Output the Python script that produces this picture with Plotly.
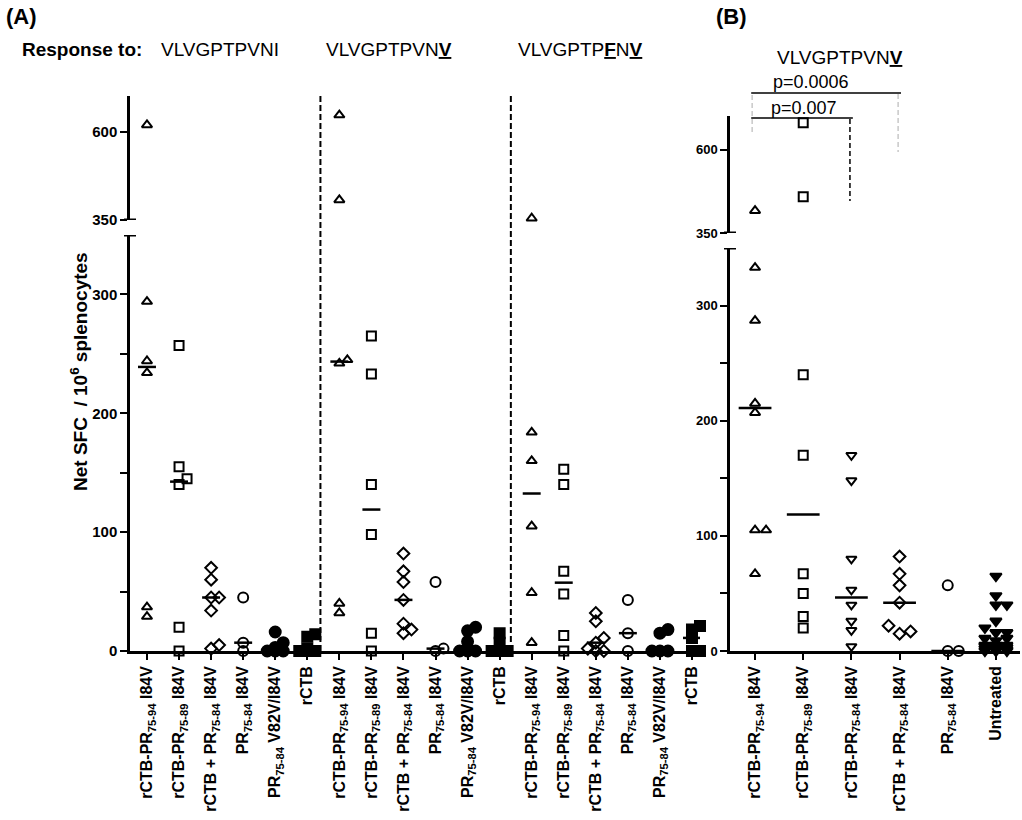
import numpy as np
import plotly.graph_objects as go

# ---------------- data ----------------
GROUPS_A = ["rCTB-PR<sub>75-94</sub> I84V", "rCTB-PR<sub>75-89</sub> I84V",
            "rCTB + PR<sub>75-84</sub> I84V", "PR<sub>75-84</sub> I84V",
            "PR<sub>75-84</sub> V82V/I84V", "rCTB"]
GROUPS_B = ["rCTB-PR<sub>75-94</sub> I84V", "rCTB-PR<sub>75-89</sub> I84V",
            "rCTB-PR<sub>75-84</sub> I84V", "rCTB + PR<sub>75-84</sub> I84V",
            "PR<sub>75-84</sub> I84V", "Untreated"]
PEPTIDES_A = ["VLVGPTPVNI", "VLVGPTPVN<b><u>V</u></b>",
              "VLVGPTP<b><u>F</u></b>N<b><u>V</u></b>"]
PEPTIDE_B = "VLVGPTPVN<b><u>V</u></b>"

# Panel A - response to VLVGPTPVNI
ni_ctb_pr94 = [620, 294, 244, 234, 37, 29]
ni_ctb_pr89 = [257, 155, 145, 140, 20, 0]
ni_ctb_plus_pr84 = [70, 60, 45, 45, 34, 5, 2]
ni_pr84 = [45, 7, 0]
ni_pr84_v82 = [16, 7, 3, 0, 0, 0]
ni_ctb = [14, 12, 2, 0, 0, 0]
# Panel A - response to VLVGPTPVNV
nv_ctb_pr94 = [648, 407, 245, 242, 40, 32]
nv_ctb_pr89 = [265, 233, 140, 98, 15, 0]
nv_ctb_plus_pr84 = [82, 67, 58, 43, 23, 18, 15]
nv_pr84 = [58, 2, 0]
nv_pr84_v82 = [20, 17, 8, 0, 0, 0]
nv_ctb = [15, 7, 0, 0, 0]
# Panel A - response to VLVGPTPFNV
fnv_ctb_pr94 = [355, 184, 160, 105, 49, 7]
fnv_ctb_pr89 = [153, 140, 67, 48, 13, 0]
fnv_ctb_plus_pr84 = [32, 25, 11, 7, 2, 0, 0]
fnv_pr84 = [43, 15, 0]
fnv_pr84_v82 = [18, 15, 0, 0, 0]
fnv_ctb = [21, 18, 11, 0, 0]
# Panel B - response to VLVGPTPVNV
b_ctb_pr94 = [417, 333, 287, 215, 207, 105, 105, 67]
b_ctb_pr89 = [681, 459, 240, 170, 67, 50, 30, 20]
b_ctb_pr84 = [170, 148, 80, 53, 40, 26, 18, 4]
b_ctb_plus_pr84 = [82, 67, 57, 42, 22, 17, 15]
b_pr84 = [57, 0, 0]
b_untreated = [65, 48, 40, 40, 26, 20, 16, 16, 11, 11, 9, 5, 5, 5, 4, 3, 3, 2, 2, 1, 1, 0, 0, 0]

Y_MAJOR_TICKS = [0, 100, 200, 300]
Y_MINOR_TICKS = [50, 150, 250]
Y_UPPER_TICKS = [350, 600]
BREAK = 350
P_TEXT = ["p=0.0006", "p=0.007"]
P_PAIRS = [(0, 3), (0, 2)]

panel_a_values = [ni_ctb_pr94, ni_ctb_pr89, ni_ctb_plus_pr84, ni_pr84, ni_pr84_v82, ni_ctb,
                  nv_ctb_pr94, nv_ctb_pr89, nv_ctb_plus_pr84, nv_pr84, nv_pr84_v82, nv_ctb,
                  fnv_ctb_pr94, fnv_ctb_pr89, fnv_ctb_plus_pr84, fnv_pr84, fnv_pr84_v82, fnv_ctb]
panel_b_values = [b_ctb_pr94, b_ctb_pr89, b_ctb_pr84, b_ctb_plus_pr84, b_pr84, b_untreated]

# ---------------- layout geometry (pixels) ----------------
W, H = 1022, 820
FONT = "Liberation Sans, Arial, Helvetica, sans-serif"


def fx(px):
    return px / W


def fy(py):
    return 1 - py / H


PA = dict(x0=130, x1=700, lo=(235, 651), up=(96, 220), xr=(-0.53, 17.25), up_max=702,
          sep=[5.41, 11.35], med_half=0.28, tick_font=15, step=8, diam=8)
PB = dict(x0=730, x1=1020, lo=(248, 651), up=(116, 233), xr=(-0.52, 5.5), up_max=701,
          med_half=0.34, tick_font=13, step=11, diam=9)

STYLE_A = [("triangle-up-open", 9), ("square-open", 9), ("diamond-open", 9),
           ("circle-open", 10), ("circle", 11), ("square", 10)]
STYLE_B = [("triangle-up-open", 9), ("square-open", 9), ("triangle-down-open", 9),
           ("diamond-open", 9), ("circle-open", 10), ("triangle-down", 10)]


def swarm(vals, ypx, diam, step):
    """Simple scatter-dot spreading: 0, +step, -step; fall back to least overlap."""
    order = np.argsort(vals, kind="stable")
    placed = []
    offs = np.zeros(len(vals))
    cands = [0.0, step, -step]
    for idx in order:
        y = ypx(vals[idx])
        best, best_d = 0.0, -1.0
        for c in cands:
            d = min([np.hypot(c - px, y - py) for px, py in placed] + [1e9])
            if d >= diam:
                best = c
                break
            if d > best_d + 0.5:
                best, best_d = c, d
        placed.append((best, y))
        offs[idx] = best
    return offs


fig = go.Figure()


def add_panel(values, styles, P, xa, ya, xa_up, ya_up):
    cat_px = (P["x1"] - P["x0"]) / (P["xr"][1] - P["xr"][0])
    lo_scale = (P["lo"][1] - P["lo"][0]) / BREAK
    up_scale = (P["up"][1] - P["up"][0]) / (P["up_max"] - BREAK)

    def ypx(v):
        if v <= BREAK:
            return P["lo"][1] - v * lo_scale
        return P["up"][1] - (v - BREAK) * up_scale

    mx, my = [], []
    for i, vals in enumerate(values):
        sym, size = styles[i % len(styles)]
        offs = swarm(vals, ypx, P["diam"], P["step"]) / cat_px
        xs = np.array([i] * len(vals), dtype=float) + offs
        v = np.array(vals, dtype=float)
        for mask, xax, yax in ((v <= BREAK, xa, ya), (v > BREAK, xa_up, ya_up)):
            if mask.any():
                fig.add_trace(go.Scatter(
                    x=xs[mask], y=v[mask], mode="markers", xaxis=xax, yaxis=yax,
                    cliponaxis=False, showlegend=False, hoverinfo="y",
                    marker=dict(symbol=sym, size=size, color="black",
                                line=dict(color="black", width=2))))
        m = float(np.median(vals))
        mx += [i - P["med_half"], i + P["med_half"], None]
        my += [m, m, None]
    fig.add_trace(go.Scatter(x=mx, y=my, mode="lines", xaxis=xa, yaxis=ya, cliponaxis=False,
                             showlegend=False, hoverinfo="skip",
                             line=dict(color="black", width=2.5)))


add_panel(panel_a_values, STYLE_A, PA, "x", "y", "x3", "y3")
add_panel(panel_b_values, STYLE_B, PB, "x2", "y2", "x4", "y4")

axis_common = dict(showline=True, linecolor="black", linewidth=2.5, ticks="outside",
                   tickcolor="black", tickwidth=2, showgrid=False, zeroline=False,
                   automargin=False, mirror=False)


def xaxis_cfg(P, labels):
    d = dict(axis_common)
    d.update(domain=[fx(P["x0"]), fx(P["x1"])], range=list(P["xr"]),
             tickmode="array", tickvals=list(range(len(labels))), ticktext=labels,
             tickangle=-90, ticklen=6, tickfont=dict(family=FONT, size=16, color="black",
                                                     weight="bold"))
    return d


def hidden_x(P, match, anchor):
    return dict(domain=[fx(P["x0"]), fx(P["x1"])], range=list(P["xr"]), matches=match,
                anchor=anchor, visible=False, showticklabels=False, showgrid=False,
                zeroline=False, showline=False, ticks="", automargin=False)


def yaxis_cfg(P, lower=True):
    d = dict(axis_common)
    if lower:
        d.update(domain=[fy(P["lo"][1]), fy(P["lo"][0])], range=[0, BREAK],
                 tickvals=Y_MAJOR_TICKS, ticktext=[str(t) for t in Y_MAJOR_TICKS],
                 minor=dict(tickmode="array", tickvals=Y_MINOR_TICKS, ticks="outside",
                            ticklen=7, tickwidth=2, tickcolor="black", showgrid=False))
    else:
        d.update(domain=[fy(P["up"][1]), fy(P["up"][0])], range=[BREAK, P["up_max"]],
                 tickvals=Y_UPPER_TICKS, ticktext=[str(t) for t in Y_UPPER_TICKS])
    d.update(tickmode="array", ticklen=7,
             tickfont=dict(family=FONT, size=P["tick_font"], color="black", weight="bold"))
    return d


labels_a = GROUPS_A * 3
fig.update_layout(
    width=W, height=H, template="none",
    margin=dict(l=0, r=0, t=0, b=0, pad=0),
    paper_bgcolor="white", plot_bgcolor="rgba(0,0,0,0)",
    showlegend=False,
    font=dict(family=FONT, color="black"),
    xaxis=dict(xaxis_cfg(PA, labels_a), anchor="y"),
    yaxis=dict(yaxis_cfg(PA, True), anchor="x"),
    xaxis3=hidden_x(PA, "x", "y3"),
    yaxis3=dict(yaxis_cfg(PA, False), anchor="x3"),
    xaxis2=dict(xaxis_cfg(PB, GROUPS_B), anchor="y2"),
    yaxis2=dict(yaxis_cfg(PB, True), anchor="x2"),
    xaxis4=hidden_x(PB, "x2", "y4"),
    yaxis4=dict(yaxis_cfg(PB, False), anchor="x4"),
)

shapes = []
# dashed separators between peptide blocks in panel A
for s in PA["sep"]:
    shapes.append(dict(type="line", xref="x", yref="paper", x0=s, x1=s,
                       y0=fy(PA["lo"][1]), y1=fy(PA["up"][0]),
                       line=dict(color="black", width=2, dash="6px,3px")))
# axis break caps
for P, yl, yu in ((PA, "y", "y3"), (PB, "y2", "y4")):
    for yr in (yl, yu):
        shapes.append(dict(type="line", xref="paper", yref=yr,
                           x0=fx(P["x0"] - 6), x1=fx(P["x0"] + 6), y0=BREAK, y1=BREAK,
                           line=dict(color="black", width=3)))

# significance brackets in panel B
br_y = [93, 118]
br_drop = [(133, 152, "#c8c8c8", "#c8c8c8"), (None, 201, None, "black")]
for k, (a, b) in enumerate(P_PAIRS):
    shapes.append(dict(type="line", xref="x2", yref="paper", x0=a - 0.08, x1=b + 0.03,
                       y0=fy(br_y[k]), y1=fy(br_y[k]), line=dict(color="black", width=1.5)))
    l_end, r_end, lc, rc = br_drop[k]
    if l_end is not None:
        shapes.append(dict(type="line", xref="x2", yref="paper", x0=a - 0.06, x1=a - 0.06,
                           y0=fy(br_y[k] + 2), y1=fy(l_end),
                           line=dict(color=lc, width=1.5, dash="5px,3px")))
    shapes.append(dict(type="line", xref="x2", yref="paper", x0=b - 0.03, x1=b - 0.03,
                       y0=fy(br_y[k] + 1), y1=fy(r_end),
                       line=dict(color=rc, width=1.5, dash="5px,3px")))
fig.update_layout(shapes=shapes)

ann = []


def text(s, x, y, size, bold=False, xanchor="center", angle=0):
    ann.append(dict(text=s, x=fx(x), y=fy(y), xref="paper", yref="paper",
                    xanchor=xanchor, yanchor="middle", showarrow=False, textangle=angle,
                    font=dict(family=FONT, size=size, color="black",
                              weight="bold" if bold else "normal")))


text("(A)", 4, 16, 22, True, "left")
text("(B)", 714, 16, 22, True, "left")
text("Response to:", 20, 49, 19, True, "left")
for s, cx in zip(PEPTIDES_A, [220, 389, 580]):
    text(s, cx, 49, 19)
text(PEPTIDE_B, 840, 58, 19)
text(P_TEXT[0], 811, 82, 18)
text(P_TEXT[1], 804, 108, 18)
text("Net SFC  / 10<sup>6</sup> splenocytes", 79, 372, 19, True, angle=-90)
fig.update_layout(annotations=ann)

fig.write_html("out.html")
